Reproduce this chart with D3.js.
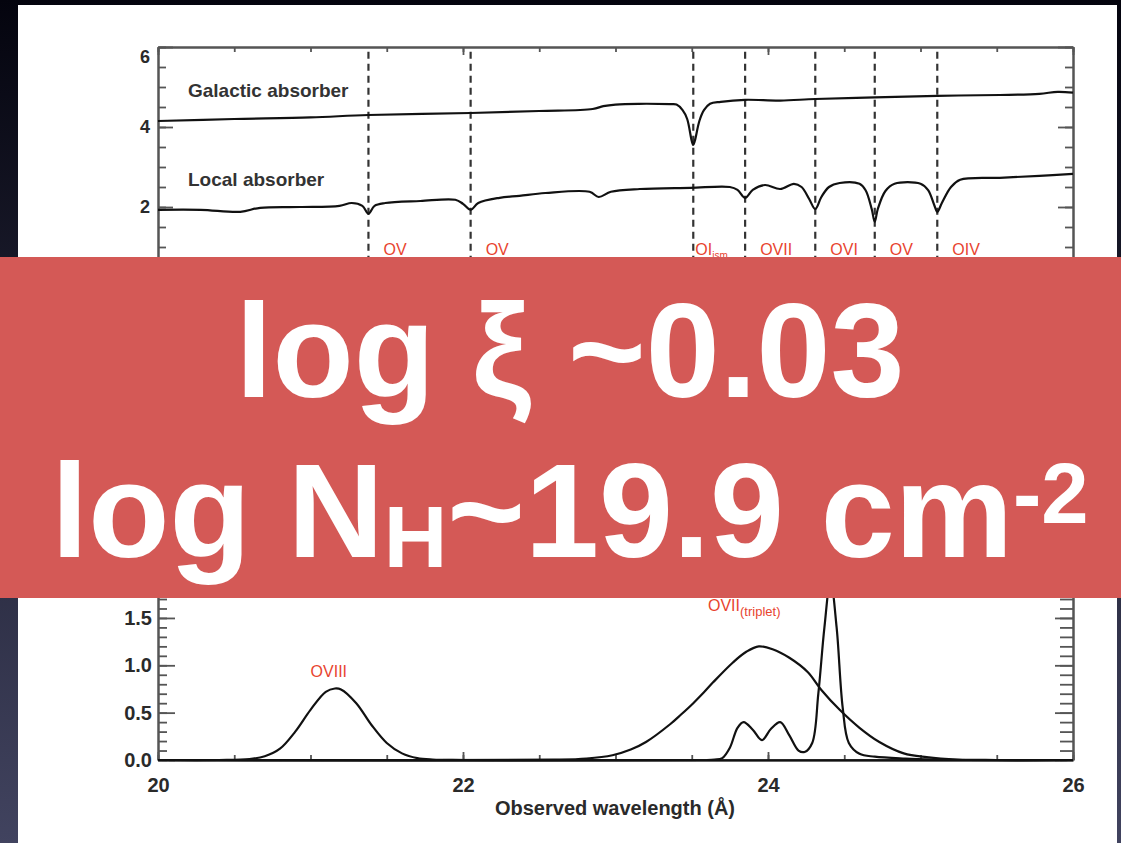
<!DOCTYPE html>
<html>
<head>
<meta charset="utf-8">
<script src="https://cdn.jsdelivr.net/npm/d3@7"></script>
<style>
  html, body { margin: 0; padding: 0; overflow: hidden; }
  svg { display: block; }
</style>
</head>
<body>
<script>
// Top panel: absorber models (wavelength in Angstrom, arbitrary offset flux)
const galacticWave = [20.0, 20.5, 21.0, 21.38, 22.05, 22.5, 22.85, 22.92, 23.0, 23.15, 23.36, 23.4, 23.44, 23.47, 23.5, 23.51, 23.52, 23.55, 23.58, 23.62, 23.69, 23.85, 24.08, 24.31, 24.7, 25.11, 25.52, 25.78, 25.9, 26.0];
const galacticFlux = [4.15, 4.2, 4.24, 4.3, 4.35, 4.4, 4.45, 4.52, 4.56, 4.58, 4.57, 4.56, 4.42, 4.2, 3.65, 3.55, 3.65, 4.15, 4.42, 4.58, 4.63, 4.68, 4.66, 4.7, 4.74, 4.78, 4.8, 4.83, 4.88, 4.86];

const localWave = [20.0, 20.28, 20.54, 20.67, 20.93, 21.19, 21.27, 21.34, 21.38, 21.42, 21.49, 21.72, 21.95, 22.0, 22.05, 22.1, 22.24, 22.37, 22.54, 22.83, 22.89, 22.97, 23.16, 23.49, 23.75, 23.8, 23.85, 23.9, 23.98, 24.08, 24.17, 24.22, 24.27, 24.31, 24.35, 24.4, 24.47, 24.6, 24.64, 24.68, 24.7, 24.72, 24.77, 24.83, 25.0, 25.05, 25.09, 25.11, 25.14, 25.2, 25.26, 25.52, 25.78, 26.0];
const localFlux = [1.93, 1.93, 1.88, 1.98, 2.0, 2.03, 2.1, 2.03, 1.83, 2.03, 2.1, 2.15, 2.18, 2.08, 1.93, 2.1, 2.23, 2.28, 2.35, 2.38, 2.25, 2.38, 2.45, 2.48, 2.5, 2.43, 2.23, 2.43, 2.55, 2.45, 2.58, 2.5, 2.2, 1.95, 2.25, 2.5, 2.6, 2.58, 2.42, 1.95, 1.63, 1.95, 2.4, 2.58, 2.58, 2.42, 2.05, 1.88, 2.1, 2.5, 2.68, 2.73, 2.78, 2.83];

// Dashed line identifications
const lineWave = [21.38, 22.05, 23.51, 23.85, 24.31, 24.70, 25.11];
const lineIon = ["OV", "OV", "OI", "OVII", "OVI", "OV", "OIV"];
const lineSub = ["", "", "ism", "", "", "", ""];

// Bottom panel: emission profiles
const oviiiWave = [20.0, 20.4, 20.6, 20.7, 20.8, 20.9, 21.0, 21.1, 21.16, 21.2, 21.3, 21.4, 21.5, 21.6, 21.7, 21.8, 22.0, 26.0];
const oviiiFlux = [0.0, 0.0, 0.01, 0.04, 0.12, 0.3, 0.53, 0.72, 0.755, 0.745, 0.6, 0.37, 0.18, 0.07, 0.02, 0.005, 0.0, 0.0];

const broadWave = [20.0, 22.6, 22.81, 22.98, 23.1, 23.2, 23.36, 23.43, 23.51, 23.58, 23.64, 23.77, 23.86, 23.94, 24.03, 24.14, 24.26, 24.35, 24.47, 24.6, 24.73, 24.89, 25.04, 25.24, 25.5, 26.0];
const broadFlux = [0.0, 0.003, 0.015, 0.05, 0.11, 0.19, 0.38, 0.48, 0.6, 0.715, 0.82, 1.03, 1.145, 1.2, 1.17, 1.08, 0.93, 0.74, 0.53, 0.34, 0.19, 0.07, 0.03, 0.005, 0.0, 0.0];

const tripletWave = [20.0, 23.6, 23.65, 23.7, 23.75, 23.8, 23.84, 23.9, 23.96, 24.02, 24.08, 24.14, 24.2, 24.24, 24.29, 24.33, 24.37, 24.41, 24.45, 24.49, 24.53, 24.6, 24.7, 24.9, 25.1, 25.3, 26.0];
const tripletFlux = [0.0, 0.0, 0.005, 0.02, 0.13, 0.34, 0.4, 0.32, 0.21, 0.33, 0.4, 0.26, 0.1, 0.085, 0.18, 0.7, 1.4, 1.9, 1.4, 0.55, 0.18, 0.065, 0.035, 0.015, 0.005, 0.0, 0.0];

const xTicks = [20, 22, 24, 26];
const topYTicks = [0, 2, 4, 6];
const botYTicks = [0, 0.5, 1.0, 1.5];

const width = 1121;
const height = 843;

const svg = d3.select("body").append("svg")
  .attr("width", width)
  .attr("height", height);

// background gradient + white figure sheet
const grad = svg.append("defs").append("linearGradient")
  .attr("id", "bg").attr("x1", 0).attr("y1", 0).attr("x2", 0).attr("y2", 1);
grad.append("stop").attr("offset", 0).attr("stop-color", "#04040e");
grad.append("stop").attr("offset", 1).attr("stop-color", "#41435f");
svg.append("rect").attr("width", width).attr("height", height).attr("fill", "url(#bg)");
svg.append("rect").attr("x", 18).attr("y", 5).attr("width", 1099).attr("height", 850).attr("fill", "#fff");

// scales
const x = d3.scaleLinear().domain([20, 26]).range([158, 1073]);
const yTop = d3.scaleLinear().domain([0, 6]).range([287, 47]);
const yBot = d3.scaleLinear().domain([0, 2]).range([760, 570.6]);

const axisColor = "#555";
const tickFont = "'Liberation Sans', Arial, sans-serif";

function styleAxis(g, fontSize) {
  g.selectAll("path.domain").attr("stroke", axisColor).attr("stroke-width", 2);
  g.selectAll(".tick line").attr("stroke", axisColor).attr("stroke-width", 1.8);
  g.selectAll(".tick text")
    .attr("fill", "#2a2a2a")
    .style("font-family", tickFont)
    .style("font-weight", "bold")
    .style("font-size", fontSize + "px");
}

// minor tick helper
function minorTicks(lo, hi, step) {
  return d3.range(Math.round((hi - lo) / step) + 1).map(i => lo + i * step);
}

// ---- top panel axes ----
const topPanel = svg.append("g");

topPanel.append("g")
  .attr("transform", `translate(${x.range()[0]},0)`)
  .call(d3.axisLeft(yTop).tickValues(minorTicks(0, 6, 0.5)).tickSizeInner(-8).tickSizeOuter(0).tickFormat(""))
  .call(g => styleAxis(g, 18));
topPanel.append("g")
  .attr("transform", `translate(${x.range()[0]},0)`)
  .call(d3.axisLeft(yTop).tickValues(topYTicks).tickSizeInner(-15).tickSizeOuter(0).tickPadding(8).tickFormat(d3.format("d")))
  .call(g => styleAxis(g, 18))
  .call(g => g.selectAll(".tick text").filter(d => d === 6).attr("dy", "0.85em"));

topPanel.append("g")
  .attr("transform", `translate(${x.range()[1]},0)`)
  .call(d3.axisRight(yTop).tickValues(minorTicks(0, 6, 0.5)).tickSizeInner(-8).tickSizeOuter(0).tickFormat(""))
  .call(g => styleAxis(g, 18));
topPanel.append("g")
  .attr("transform", `translate(${x.range()[1]},0)`)
  .call(d3.axisRight(yTop).tickValues(topYTicks).tickSizeInner(-15).tickSizeOuter(0).tickFormat(""))
  .call(g => styleAxis(g, 18));

topPanel.append("g")
  .attr("transform", `translate(0,${yTop(6)})`)
  .call(d3.axisTop(x).tickValues(minorTicks(20, 26, 0.5)).tickSizeInner(-5).tickSizeOuter(0).tickFormat(""))
  .call(g => styleAxis(g, 18));
topPanel.append("g")
  .attr("transform", `translate(0,${yTop(6)})`)
  .call(d3.axisTop(x).tickValues(xTicks).tickSizeInner(-8).tickSizeOuter(0).tickFormat(""))
  .call(g => styleAxis(g, 18));

// dashed identification lines
topPanel.selectAll("line.ident")
  .data(lineWave)
  .join("line")
  .attr("class", "ident")
  .attr("x1", d => x(d)).attr("x2", d => x(d))
  .attr("y1", yTop(5.88)).attr("y2", yTop(0))
  .attr("stroke", "#333")
  .attr("stroke-width", 2.2)
  .attr("stroke-dasharray", "7 5");

const lineGen = (yScale) => d3.line()
  .x(d => x(d[0]))
  .y(d => yScale(d[1]))
  .curve(d3.curveCatmullRom.alpha(0.5));

topPanel.append("path")
  .datum(d3.zip(galacticWave, galacticFlux))
  .attr("d", lineGen(yTop))
  .attr("fill", "none").attr("stroke", "#111").attr("stroke-width", 2.2);

topPanel.append("path")
  .datum(d3.zip(localWave, localFlux))
  .attr("d", lineGen(yTop))
  .attr("fill", "none").attr("stroke", "#111").attr("stroke-width", 2.2);

const labelFont = "'Liberation Sans', Arial, sans-serif";

topPanel.append("text")
  .attr("x", 188).attr("y", 97)
  .attr("fill", "#333")
  .style("font-family", labelFont).style("font-weight", "bold").style("font-size", "19px")
  .text("Galactic absorber");
topPanel.append("text")
  .attr("x", 188).attr("y", 186)
  .attr("fill", "#333")
  .style("font-family", labelFont).style("font-weight", "bold").style("font-size", "19px")
  .text("Local absorber");

// red ion labels beside the dashed lines
const ionText = topPanel.selectAll("text.ion")
  .data(lineWave.map((w, i) => ({ w, ion: lineIon[i], sub: lineSub[i] })))
  .join("text")
  .attr("class", "ion")
  .attr("x", d => x(d.w) + (d.sub ? 2 : 15))
  .attr("y", 255)
  .attr("fill", "#e8442f")
  .style("font-family", labelFont).style("font-size", "16px");
ionText.append("tspan").text(d => d.ion);
ionText.filter(d => d.sub).append("tspan")
  .attr("dy", 4).style("font-size", "10px").text(d => d.sub);

// ---- bottom panel ----
const botPanel = svg.append("g");

botPanel.append("g")
  .attr("transform", `translate(${x.range()[0]},0)`)
  .call(d3.axisLeft(yBot).tickValues(minorTicks(0, 2, 0.1)).tickSizeInner(-9).tickSizeOuter(0).tickFormat(""))
  .call(g => styleAxis(g, 20));
botPanel.append("g")
  .attr("transform", `translate(${x.range()[0]},0)`)
  .call(d3.axisLeft(yBot).tickValues(botYTicks).tickSizeInner(-17).tickSizeOuter(0).tickPadding(6).tickFormat(d3.format(".1f")))
  .call(g => styleAxis(g, 20));

botPanel.append("g")
  .attr("transform", `translate(${x.range()[1]},0)`)
  .call(d3.axisRight(yBot).tickValues(minorTicks(0, 2, 0.1)).tickSizeInner(-13).tickSizeOuter(0).tickFormat(""))
  .call(g => styleAxis(g, 20));
botPanel.append("g")
  .attr("transform", `translate(${x.range()[1]},0)`)
  .call(d3.axisRight(yBot).tickValues(botYTicks).tickSizeInner(-18).tickSizeOuter(0).tickFormat(""))
  .call(g => styleAxis(g, 20));

botPanel.append("g")
  .attr("transform", `translate(0,${yBot(0)})`)
  .call(d3.axisBottom(x).tickValues(minorTicks(20, 26, 0.5)).tickSizeInner(-5).tickSizeOuter(0).tickFormat(""))
  .call(g => styleAxis(g, 20));
botPanel.append("g")
  .attr("transform", `translate(0,${yBot(0)})`)
  .call(d3.axisBottom(x).tickValues(xTicks).tickSizeInner(-8).tickSizeOuter(0).tickPadding(18).tickFormat(d3.format("d")))
  .call(g => styleAxis(g, 20));

botPanel.append("text")
  .attr("x", 615).attr("y", 815)
  .attr("text-anchor", "middle")
  .attr("fill", "#2a2a2a")
  .style("font-family", labelFont).style("font-weight", "bold").style("font-size", "20px")
  .text("Observed wavelength (Å)");

[[oviiiWave, oviiiFlux], [broadWave, broadFlux], [tripletWave, tripletFlux]].forEach(([w, f]) => {
  botPanel.append("path")
    .datum(d3.zip(w, f))
    .attr("d", lineGen(yBot))
    .attr("fill", "none").attr("stroke", "#111").attr("stroke-width", 2.2);
});

botPanel.append("text")
  .attr("x", x(21.12)).attr("y", 677)
  .attr("text-anchor", "middle")
  .attr("fill", "#e8442f")
  .style("font-family", labelFont).style("font-size", "16px")
  .text("OVIII");

const tripLabel = botPanel.append("text")
  .attr("x", 708).attr("y", 611)
  .attr("fill", "#e8442f")
  .style("font-family", labelFont).style("font-size", "16px");
tripLabel.append("tspan").text("OVII");
tripLabel.append("tspan").attr("dy", 5).style("font-size", "13px").text("(triplet)");

// ---- red overlay banner ----
svg.append("rect")
  .attr("x", 0).attr("y", 257)
  .attr("width", width).attr("height", 341)
  .attr("fill", "#d45956");

const bigFont = "'Liberation Sans', Arial, Helvetica, sans-serif";

svg.append("text")
  .attr("x", 570).attr("y", 397)
  .attr("text-anchor", "middle")
  .attr("fill", "#fff")
  .style("font-family", bigFont).style("font-weight", "bold").style("font-size", "133px")
  .text("log ξ ~0.03");

const line2 = svg.append("text")
  .attr("x", 570).attr("y", 557)
  .attr("text-anchor", "middle")
  .attr("fill", "#fff")
  .style("font-family", bigFont).style("font-weight", "bold").style("font-size", "133px");
line2.append("tspan").text("log N");
line2.append("tspan").attr("dy", 10).style("font-size", "88px").text("H");
line2.append("tspan").attr("dy", -10).text("~19.9 cm");
line2.append("tspan").attr("dy", -34).style("font-size", "85px").text("-2");
</script>
</body>
</html>
